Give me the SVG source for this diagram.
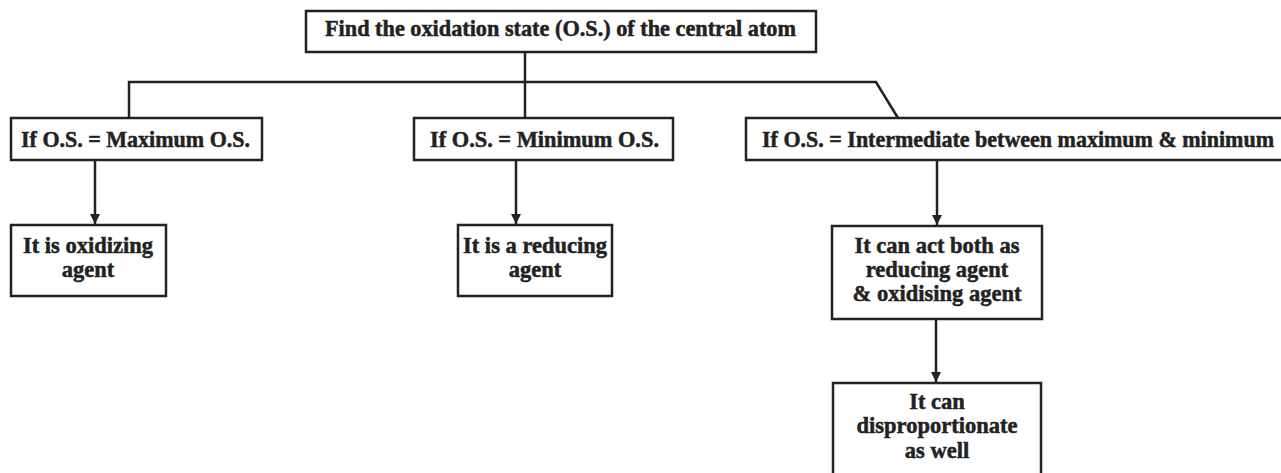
<svg xmlns="http://www.w3.org/2000/svg" width="1281" height="473" viewBox="0 0 1281 473">
<defs>
<style>
.box{fill:#fff;stroke:#222;stroke-width:2.5}
.t{font-family:"Liberation Serif","Times New Roman",serif;font-weight:bold;font-size:22.5px;fill:#222;stroke:#222;stroke-width:0.5}
.c{text-anchor:middle}
.ln{fill:none;stroke:#222;stroke-width:2.5}
</style>
<marker id="ah" viewBox="0 0 10 10" refX="10" refY="5" markerWidth="10" markerHeight="10" markerUnits="userSpaceOnUse" orient="auto">
<path d="M0,0 L10,5 L0,10 z" fill="#222"/>
</marker>
</defs>
<rect width="1281" height="473" fill="#fff"/>
<g id="connectors">
<line class="ln" x1="525" y1="52" x2="525" y2="118"/>
<polyline class="ln" points="129,118 129,82 876,82 898,118"/>
<line class="ln" x1="95" y1="160" x2="95" y2="224" marker-end="url(#ah)"/>
<line class="ln" x1="516" y1="160" x2="516" y2="224" marker-end="url(#ah)"/>
<line class="ln" x1="937" y1="160" x2="937" y2="225" marker-end="url(#ah)"/>
<line class="ln" x1="936" y1="319" x2="936" y2="382" marker-end="url(#ah)"/>
</g>
<g id="top">
<rect class="box" x="306" y="11" width="510" height="41"/>
<text class="t" x="325" y="36" textLength="471" lengthAdjust="spacingAndGlyphs">Find the oxidation state (O.S.) of the central atom</text>
</g>
<g id="max">
<rect class="box" x="11" y="118" width="251" height="42"/>
<text class="t" x="21" y="147" textLength="229" lengthAdjust="spacingAndGlyphs">If O.S. = Maximum O.S.</text>
</g>
<g id="min">
<rect class="box" x="414" y="118" width="259" height="42"/>
<text class="t" x="430" y="147" textLength="229" lengthAdjust="spacingAndGlyphs">If O.S. = Minimum O.S.</text>
</g>
<g id="inter">
<rect class="box" x="746" y="118" width="545" height="42"/>
<text class="t" x="762" y="147" textLength="512" lengthAdjust="spacingAndGlyphs">If O.S. = Intermediate between maximum &amp; minimum</text>
</g>
<g id="oxidizing">
<rect class="box" x="11" y="225" width="155" height="71"/>
<text class="t c" x="88" y="253">It is oxidizing</text>
<text class="t c" x="88" y="277">agent</text>
</g>
<g id="reducing">
<rect class="box" x="458" y="225" width="154" height="71"/>
<text class="t c" x="535" y="253">It is a reducing</text>
<text class="t c" x="535" y="277">agent</text>
</g>
<g id="both">
<rect class="box" x="832" y="226" width="210" height="93"/>
<text class="t c" x="937" y="253">It can act both as</text>
<text class="t c" x="937" y="277">reducing agent</text>
<text class="t c" x="937" y="301">&amp; oxidising agent</text>
</g>
<g id="dispro">
<rect class="box" x="833" y="383" width="208" height="100"/>
<text class="t c" x="937" y="409">It can</text>
<text class="t c" x="937" y="433">disproportionate</text>
<text class="t c" x="937" y="458">as well</text>
</g>
</svg>
